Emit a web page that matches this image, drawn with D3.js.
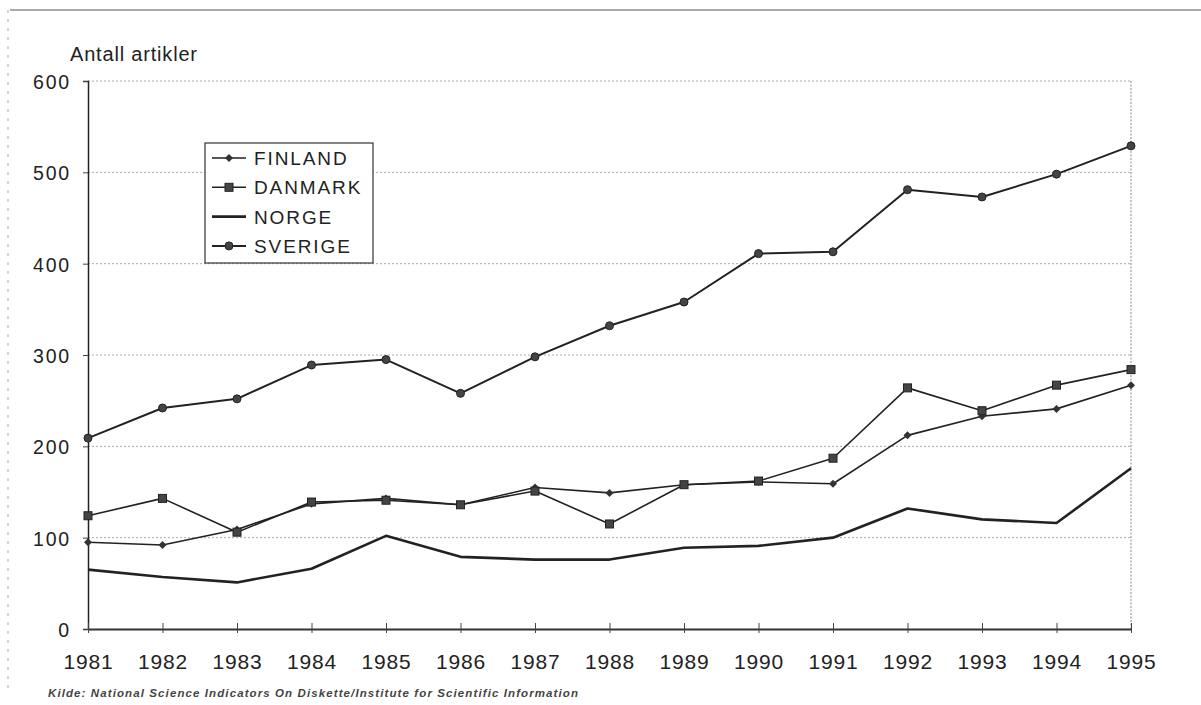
<!DOCTYPE html>
<html><head><meta charset="utf-8">
<script src="https://cdn.jsdelivr.net/npm/d3@7"></script>
<style>body{margin:0;background:#fff}svg{display:block}</style>
</head><body><svg id="c" width="1201" height="705"></svg>
<script>
const years = [1981,1982,1983,1984,1985,1986,1987,1988,1989,1990,1991,1992,1993,1994,1995];
const finland = [95,92,109,137,143,136,155,149,158,161,159,212,233,241,267];
const danmark = [124,143,106,139,141,136,151,115,158,162,187,264,239,267,284];
const norge   = [65,57,51,66,102,79,76,76,89,91,100,132,120,116,176];
const sverige = [209,242,252,289,295,258,298,332,358,411,413,481,473,498,529];
const yTicks = [0,100,200,300,400,500,600];
const seriesNames = ["FINLAND","DANMARK","NORGE","SVERIGE"];
const yTitle = "Antall artikler";
const source = "Kilde: National Science Indicators On Diskette/Institute for Scientific Information";

const series = [
  {name:seriesNames[0], values:finland, marker:"diamond", w:1.6},
  {name:seriesNames[1], values:danmark, marker:"square", w:1.6},
  {name:seriesNames[2], values:norge, marker:"none", w:2.6},
  {name:seriesNames[3], values:sverige, marker:"circle", w:2}
];

const svg = d3.select("#c");
const L=88, R=1131, T=81, B=629;
const x = d3.scaleLinear().domain([1981,1995]).range([L,R]);
const y = d3.scaleLinear().domain([0,600]).range([B,T]);
const font = "Liberation Sans, Arial, sans-serif";

// outer border
svg.append("line").attr("x1",10).attr("x2",1201).attr("y1",10).attr("y2",10).attr("stroke","#555").attr("stroke-width",1.2);
svg.append("line").attr("x1",8).attr("x2",8).attr("y1",10).attr("y2",690).attr("stroke","#aaa").attr("stroke-width",1).attr("stroke-dasharray","3,6");

// gridlines
svg.append("g").selectAll("line").data(yTicks.filter(d=>d>0)).join("line")
  .attr("x1",L).attr("x2",R).attr("y1",d=>y(d)).attr("y2",d=>y(d))
  .attr("stroke","#aaa").attr("stroke-width",1).attr("stroke-dasharray","2,2");
// right border
svg.append("line").attr("x1",R).attr("x2",R).attr("y1",T).attr("y2",B).attr("stroke","#888").attr("stroke-width",1).attr("stroke-dasharray","2,1.5");

// y axis
const ya = svg.append("g").attr("transform",`translate(${L},0)`)
  .call(d3.axisLeft(y).tickValues(yTicks).tickSize(5).tickPadding(12));
ya.select(".domain").attr("stroke","#222").attr("stroke-width",1.5);
ya.selectAll(".tick line").attr("stroke","#444");
ya.selectAll("text").attr("font-family",font).attr("font-size",19.5).attr("fill","#222").attr("letter-spacing","1.8px").attr("dy","0.38em");

// x axis
const xa = svg.append("g").attr("transform",`translate(0,${B})`)
  .call(d3.axisBottom(x).tickValues(years).tickFormat(d3.format("d")).tickSizeOuter(0).tickSizeInner(4).tickPadding(21));
xa.select(".domain").attr("stroke","#333").attr("stroke-width",2);
xa.selectAll(".tick line").attr("y1",-6).attr("y2",4).attr("stroke","#444");
xa.selectAll("text").attr("font-family",font).attr("font-size",21).attr("fill","#222").attr("letter-spacing","0.8px");

// y title
svg.append("text").attr("x",70).attr("y",61).text(yTitle)
  .attr("font-family",font).attr("font-size",20).attr("fill","#222").attr("textLength",127).attr("lengthAdjust","spacing");

// source
svg.append("text").attr("x",48).attr("y",697).text(source)
  .attr("font-family",font).attr("font-size",11.5).attr("font-style","italic").attr("font-weight","bold").attr("fill","#444")
  .attr("textLength",530).attr("lengthAdjust","spacing");

function drawMarker(g, type, cx, cy){
  if(type==="diamond") g.append("path").attr("d",`M${cx},${cy-4}L${cx+4},${cy}L${cx},${cy+4}L${cx-4},${cy}Z`).attr("fill","#333");
  else if(type==="square") g.append("rect").attr("x",cx-4).attr("y",cy-4).attr("width",8).attr("height",8).attr("fill","#444").attr("stroke","#222");
  else if(type==="circle") g.append("circle").attr("cx",cx).attr("cy",cy).attr("r",4).attr("fill","#444").attr("stroke","#222");
}

const line = d3.line().x((d,i)=>x(years[i])).y(d=>y(d));
series.forEach(s=>{
  const g = svg.append("g");
  g.append("path").datum(s.values).attr("d",line).attr("fill","none").attr("stroke","#222").attr("stroke-width",s.w).attr("stroke-linejoin","round");
  s.values.forEach((v,i)=>drawMarker(g,s.marker,x(years[i]),y(v)));
});

// legend
const lg = svg.append("g");
lg.append("rect").attr("x",205).attr("y",143).attr("width",168).attr("height",120).attr("fill","#fff").attr("stroke","#333").attr("stroke-width",1.2);
series.forEach((s,i)=>{
  const cy = 158 + i*29.3;
  lg.append("line").attr("x1",212).attr("x2",246).attr("y1",cy).attr("y2",cy).attr("stroke","#222").attr("stroke-width",s.w);
  drawMarker(lg,s.marker,229,cy);
  lg.append("text").attr("x",254).attr("y",cy+7).text(s.name)
    .attr("font-family",font).attr("font-size",19).attr("fill","#222").attr("letter-spacing","1.9px");
});
</script></body></html>
